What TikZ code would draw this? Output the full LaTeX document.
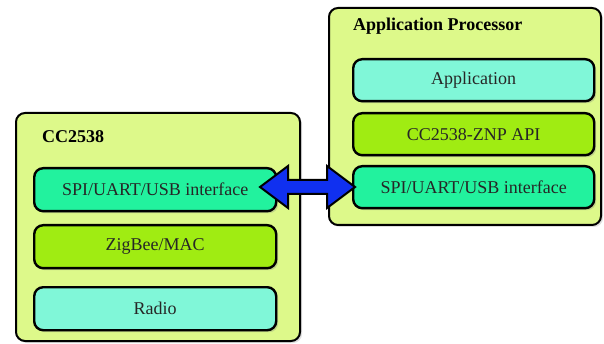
\documentclass[tikz,border=0pt]{standalone}
\usepackage{fontspec}
\setmainfont{Liberation Serif}
\usetikzlibrary{shadows,calc}
\definecolor{outerfill}{HTML}{DDF98A}
\definecolor{mint}{HTML}{22F29E}
\definecolor{aqua}{HTML}{80F7D8}
\definecolor{lime}{HTML}{A0EC12}
\definecolor{arrowblue}{HTML}{1030F0}
\begin{document}
\begin{tikzpicture}[x=1pt,y=-1pt,
  outerbox/.style={draw=black, line width=2pt, fill=outerfill, rounded corners=9pt,
    anchor=north west, inner sep=0pt,
    drop shadow={shadow xshift=2pt, shadow yshift=-2pt, opacity=0.25}},
  layerbox/.style={draw=black, line width=2.4pt, rounded corners=9pt, anchor=north west,
    inner sep=0pt, font=\fontsize{18}{20}\selectfont, text=black!85,
    drop shadow={shadow xshift=2pt, shadow yshift=-2pt, opacity=0.3}},
  title/.style={anchor=base west, font=\fontsize{18}{20}\selectfont\bfseries, inner sep=0pt},
  fatarrow/.style={draw=black, line width=2pt, fill=arrowblue, line join=miter}
]
\useasboundingbox (0,0) rectangle (604,344);
% left chip
\node[outerbox, minimum width=284pt, minimum height=228pt] (cc) at (15,112) {};
\node[title] (cclabel) at (42,143) {CC2538};
\node[layerbox, fill=mint, minimum width=242pt, minimum height=43pt] (lspi) at (33,167) {SPI/UART/USB interface};
\node[layerbox, fill=lime, minimum width=242pt, minimum height=43pt] (zig) at (33,224) {ZigBee/MAC};
\node[layerbox, fill=aqua, minimum width=242pt, minimum height=43pt] (radio) at (33,286) {Radio};
% right processor
\node[outerbox, minimum width=272pt, minimum height=217pt] (ap) at (328,7) {};
\node[title] (aplabel) at (353,31) {Application Processor};
\node[layerbox, fill=aqua, minimum width=241pt, minimum height=42pt] (app) at (352,58) {Application};
\node[layerbox, fill=lime, minimum width=241pt, minimum height=42pt] (api) at (352,112) {CC2538-ZNP API};
\node[layerbox, fill=mint, minimum width=241pt, minimum height=42pt] (rspi) at (352,165) {SPI/UART/USB interface};
% link
\coordinate (tipL) at (260,187);
\coordinate (tipR) at (355,187);
\draw[fatarrow] (tipL) -- ++(28,-21) -- ++(0,14) -- ($(tipR)+(-28,-7)$) -- ++(0,-14)
  -- (tipR) -- ++(-28,21) -- ++(0,-14) -- ($(tipL)+(28,7)$) -- ++(0,14) -- cycle;
\end{tikzpicture}
\end{document}
